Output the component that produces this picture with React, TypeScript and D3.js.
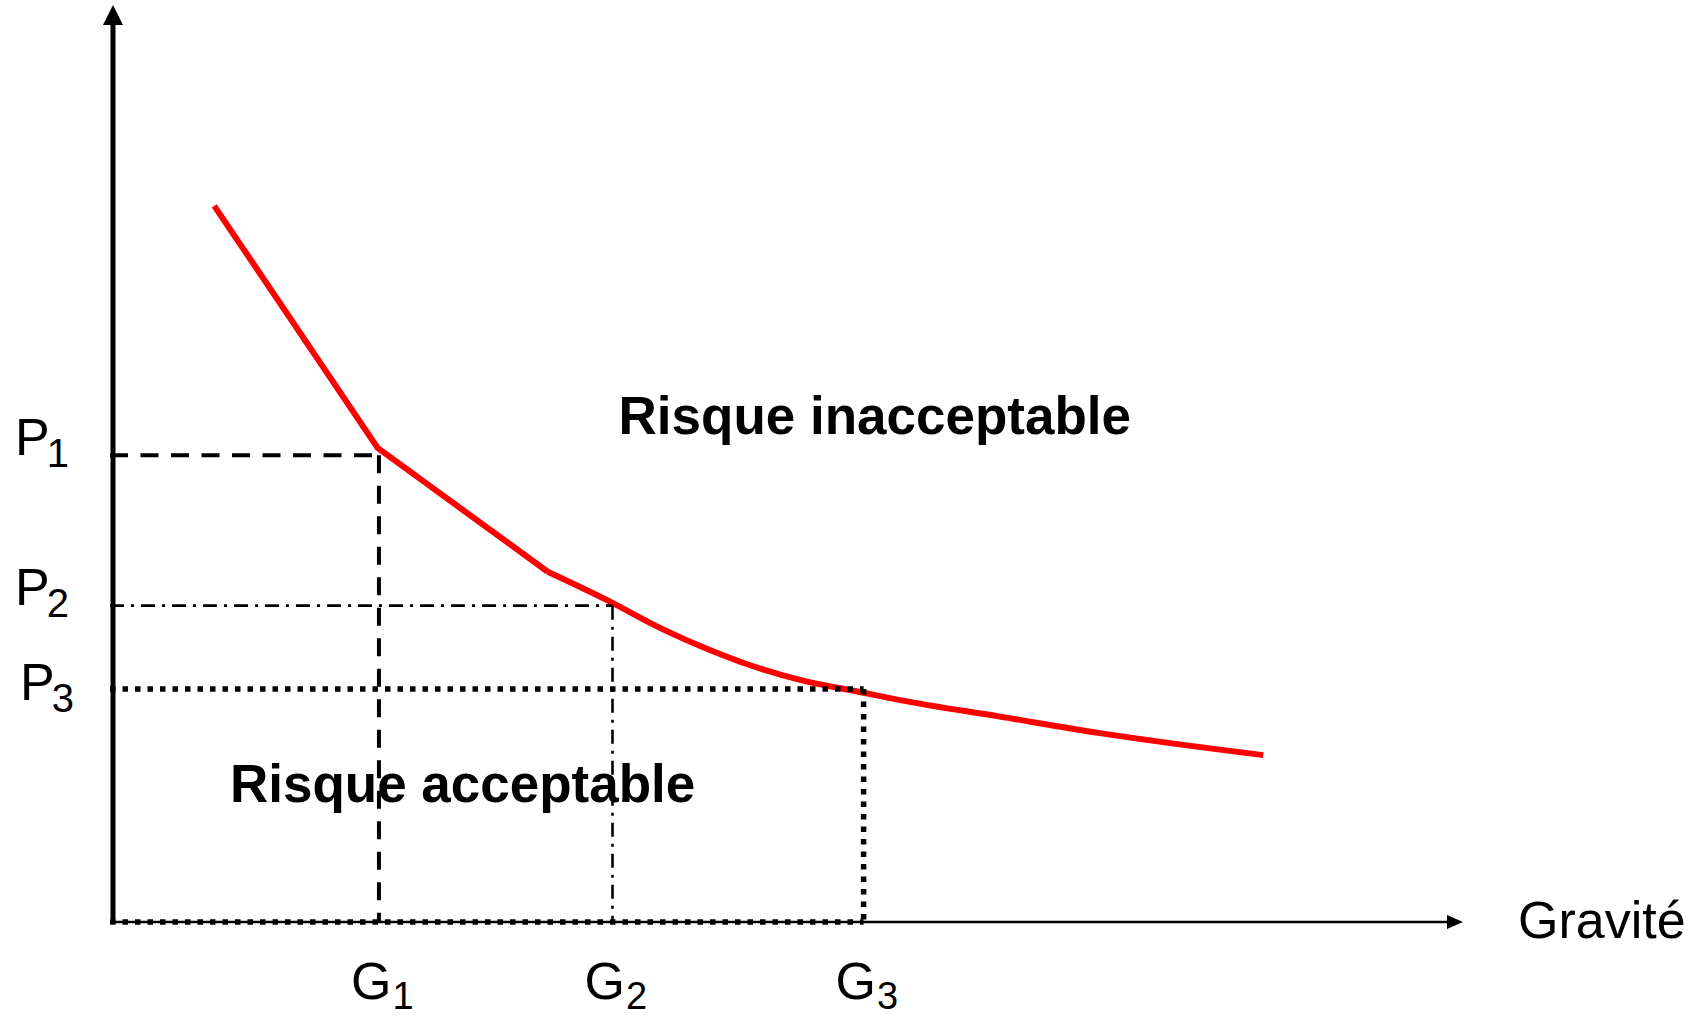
import React from 'react';
import * as d3 from 'd3';

// ---- data (abstract units) ----
const gravityLevels = [1.97, 3.7, 5.56]; // G1, G2, G3
const probabilityLevels = [5.09, 3.45, 2.54]; // P1, P2, P3
const levelIndices = ['1', '2', '3'];
const curveX = [0.75, 1.96, 3.22, 3.7, 3.98, 4.35, 4.72, 5.09, 5.56, 5.83, 6.57, 7.31, 8.52];
const curveY = [7.81, 5.17, 3.82, 3.48, 3.26, 3.01, 2.8, 2.64, 2.5, 2.42, 2.24, 2.06, 1.82];
const zoneLabels = ['Risque inacceptable', 'Risque acceptable'];
const xAxisLabel = 'Gravité';

const W = 1704;
const H = 1017;
const FONT = '"Liberation Sans", Arial, Helvetica, sans-serif';

export default function App() {
  const x = d3.scaleLinear().domain([0, 10]).range([113, 1463]);
  const y = d3.scaleLinear().domain([0, 10]).range([922, 5]);

  const pts: [number, number][] = curveX.map((v, i) => [v, curveY[i]]);
  const lineLin = d3
    .line<[number, number]>()
    .x((d) => x(d[0]))
    .y((d) => y(d[1]))
    .curve(d3.curveLinear);
  const lineSmooth = d3
    .line<[number, number]>()
    .x((d) => x(d[0]))
    .y((d) => y(d[1]))
    .curve(d3.curveMonotoneX);

  const levelStyles = [
    { dash: '18,12.5', width: 4 },
    { dash: '14,7,3,7', width: 2.6 },
    { dash: '5.5,7', width: 5.5 },
  ];
  const pLabelX = [15, 15, 20];
  const pLabelDy = [0, -1, 11];

  const x0 = x(0);
  const y0 = y(0);

  return (
    <svg
      width={W}
      height={H}
      viewBox={`0 0 ${W} ${H}`}
      style={{ position: 'absolute', left: 0, top: 0, background: '#fff' }}
    >
      {/* red limit curve */}
      <path d={lineLin(pts.slice(0, 3)) || ''} fill="none" stroke="#ff0000" strokeWidth={6} />
      <path d={lineSmooth(pts.slice(2)) || ''} fill="none" stroke="#ff0000" strokeWidth={6} />

      {/* axes */}
      <line x1={x0} y1={y0} x2={x(10) - 16} y2={y0} stroke="#000" strokeWidth={2.5} />
      <path
        d={`M${x(10)},${y0} L${x(10) - 16},${y0 - 7} L${x(10) - 16},${y0 + 7} Z`}
        fill="#000"
      />
      <line x1={x0} y1={y0 + 2} x2={x0} y2={y(10) + 19} stroke="#000" strokeWidth={5} />
      <path
        d={`M${x0},${y(10)} L${x0 - 10},${y(10) + 20} L${x0 + 10},${y(10) + 20} Z`}
        fill="#000"
      />

      {/* reference levels */}
      {gravityLevels.map((g, i) => {
        const p = probabilityLevels[i];
        const st = levelStyles[i];
        return (
          <g key={i} fill="none" stroke="#000" strokeWidth={st.width} strokeDasharray={st.dash}>
            <line x1={x0 - 3} y1={y(p)} x2={x(g)} y2={y(p)} />
            <line x1={x(g)} y1={y(p)} x2={x(g)} y2={y0} />
            {i === 2 && <line x1={x0 - 3} y1={y0} x2={x(g)} y2={y0} />}
          </g>
        );
      })}

      {/* P labels */}
      {probabilityLevels.map((p, i) => (
        <text key={'p' + i} x={pLabelX[i]} y={y(p) + pLabelDy[i]} fontFamily={FONT} fontSize={52} fill="#000">
          P
          <tspan fontSize={40} dx={-3} dy={12}>
            {levelIndices[i]}
          </tspan>
        </text>
      ))}

      {/* G labels */}
      {gravityLevels.map((g, i) => (
        <text key={'g' + i} x={x(g) - 28} y={999} fontFamily={FONT} fontSize={52} fill="#000">
          G
          <tspan fontSize={38} dx={1} dy={10}>
            {levelIndices[i]}
          </tspan>
        </text>
      ))}

      {/* zone labels */}
      <text x={x(3.745)} y={y(5.32)} fontFamily={FONT} fontSize={53} fontWeight="bold" fill="#000">
        {zoneLabels[0]}
      </text>
      <text x={x(0.866)} y={y(1.31)} fontFamily={FONT} fontSize={53} fontWeight="bold" fill="#000">
        {zoneLabels[1]}
      </text>

      {/* axis label */}
      <text x={1518} y={938} fontFamily={FONT} fontSize={52} fill="#000">
        {xAxisLabel}
      </text>
    </svg>
  );
}
